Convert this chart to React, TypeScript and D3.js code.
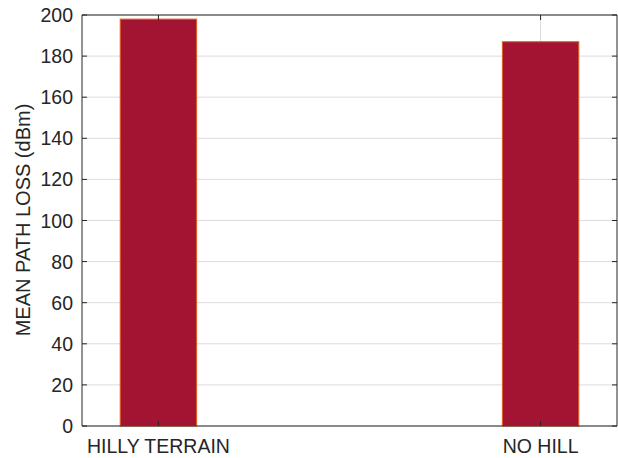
import React from "react";
import * as d3 from "d3";

const categories = ["HILLY TERRAIN", "NO HILL"];
const meanPathLoss = [198, 187];
const yTicks = [0, 20, 40, 60, 80, 100, 120, 140, 160, 180, 200];

const W = 618;
const H = 458;
const margin = { left: 82, right: 1, top: 15, bottom: 32 };

export default function App() {
  const x = d3
    .scaleLinear()
    .domain([0.8, 2.2])
    .range([margin.left, W - margin.right]);
  const y = d3
    .scaleLinear()
    .domain([0, 200])
    .range([H - margin.bottom, margin.top]);
  const barW = x(1.1) - x(0.9);
  const font = "'Liberation Sans', Arial, sans-serif";
  const left = margin.left;
  const right = W - margin.right;
  const top = margin.top;
  const bottom = H - margin.bottom;

  return (
    <svg
      width={W}
      height={H}
      style={{ position: "absolute", left: 0, top: 0, background: "#fff" }}
      fontFamily={font}
    >
      {/* horizontal grid */}
      {yTicks.map((t) => (
        <line key={"g" + t} x1={left} x2={right} y1={y(t)} y2={y(t)} stroke="#dcdcdc" strokeWidth={1} />
      ))}
      {/* vertical grid at categories */}
      {categories.map((c, i) => (
        <line key={"vg" + c} x1={x(i + 1)} x2={x(i + 1)} y1={top} y2={bottom} stroke="#dcdcdc" strokeWidth={1} />
      ))}
      {/* bars */}
      {meanPathLoss.map((v, i) => (
        <rect
          key={"b" + i}
          x={x(i + 1) - barW / 2}
          y={y(v)}
          width={barW}
          height={y(0) - y(v)}
          fill="#A21431"
          stroke="#E0601F"
          strokeWidth={1}
        />
      ))}
      {/* axes box */}
      <line x1={left} x2={right} y1={top} y2={top} stroke="#262626" strokeWidth={1} />
      <line x1={left} x2={right} y1={bottom} y2={bottom} stroke="#262626" strokeWidth={1} />
      <line x1={left} x2={left} y1={top} y2={bottom} stroke="#262626" strokeWidth={1} />
      <line x1={right} x2={right} y1={top} y2={bottom} stroke="#262626" strokeWidth={1} />
      {/* y ticks */}
      {yTicks.map((t) => (
        <g key={"t" + t}>
          <line x1={left} x2={left + 5} y1={y(t)} y2={y(t)} stroke="#262626" />
          <line x1={right - 5} x2={right} y1={y(t)} y2={y(t)} stroke="#262626" />
          <text x={left - 9} y={y(t)} dy="0.36em" textAnchor="end" fontSize={19.5} fill="#262626">
            {t}
          </text>
        </g>
      ))}
      {/* x ticks */}
      {categories.map((c, i) => (
        <g key={"x" + c}>
          <line x1={x(i + 1)} x2={x(i + 1)} y1={top} y2={top + 5} stroke="#262626" />
          <line x1={x(i + 1)} x2={x(i + 1)} y1={bottom - 5} y2={bottom} stroke="#262626" />
          <text x={x(i + 1)} y={bottom + 27} textAnchor="middle" fontSize={19.5} fill="#262626">
            {c}
          </text>
        </g>
      ))}
      <text
        transform={`translate(30,220) rotate(-90)`}
        textAnchor="middle"
        fontSize={20}
        fill="#262626"
      >
        MEAN PATH LOSS (dBm)
      </text>
    </svg>
  );
}
